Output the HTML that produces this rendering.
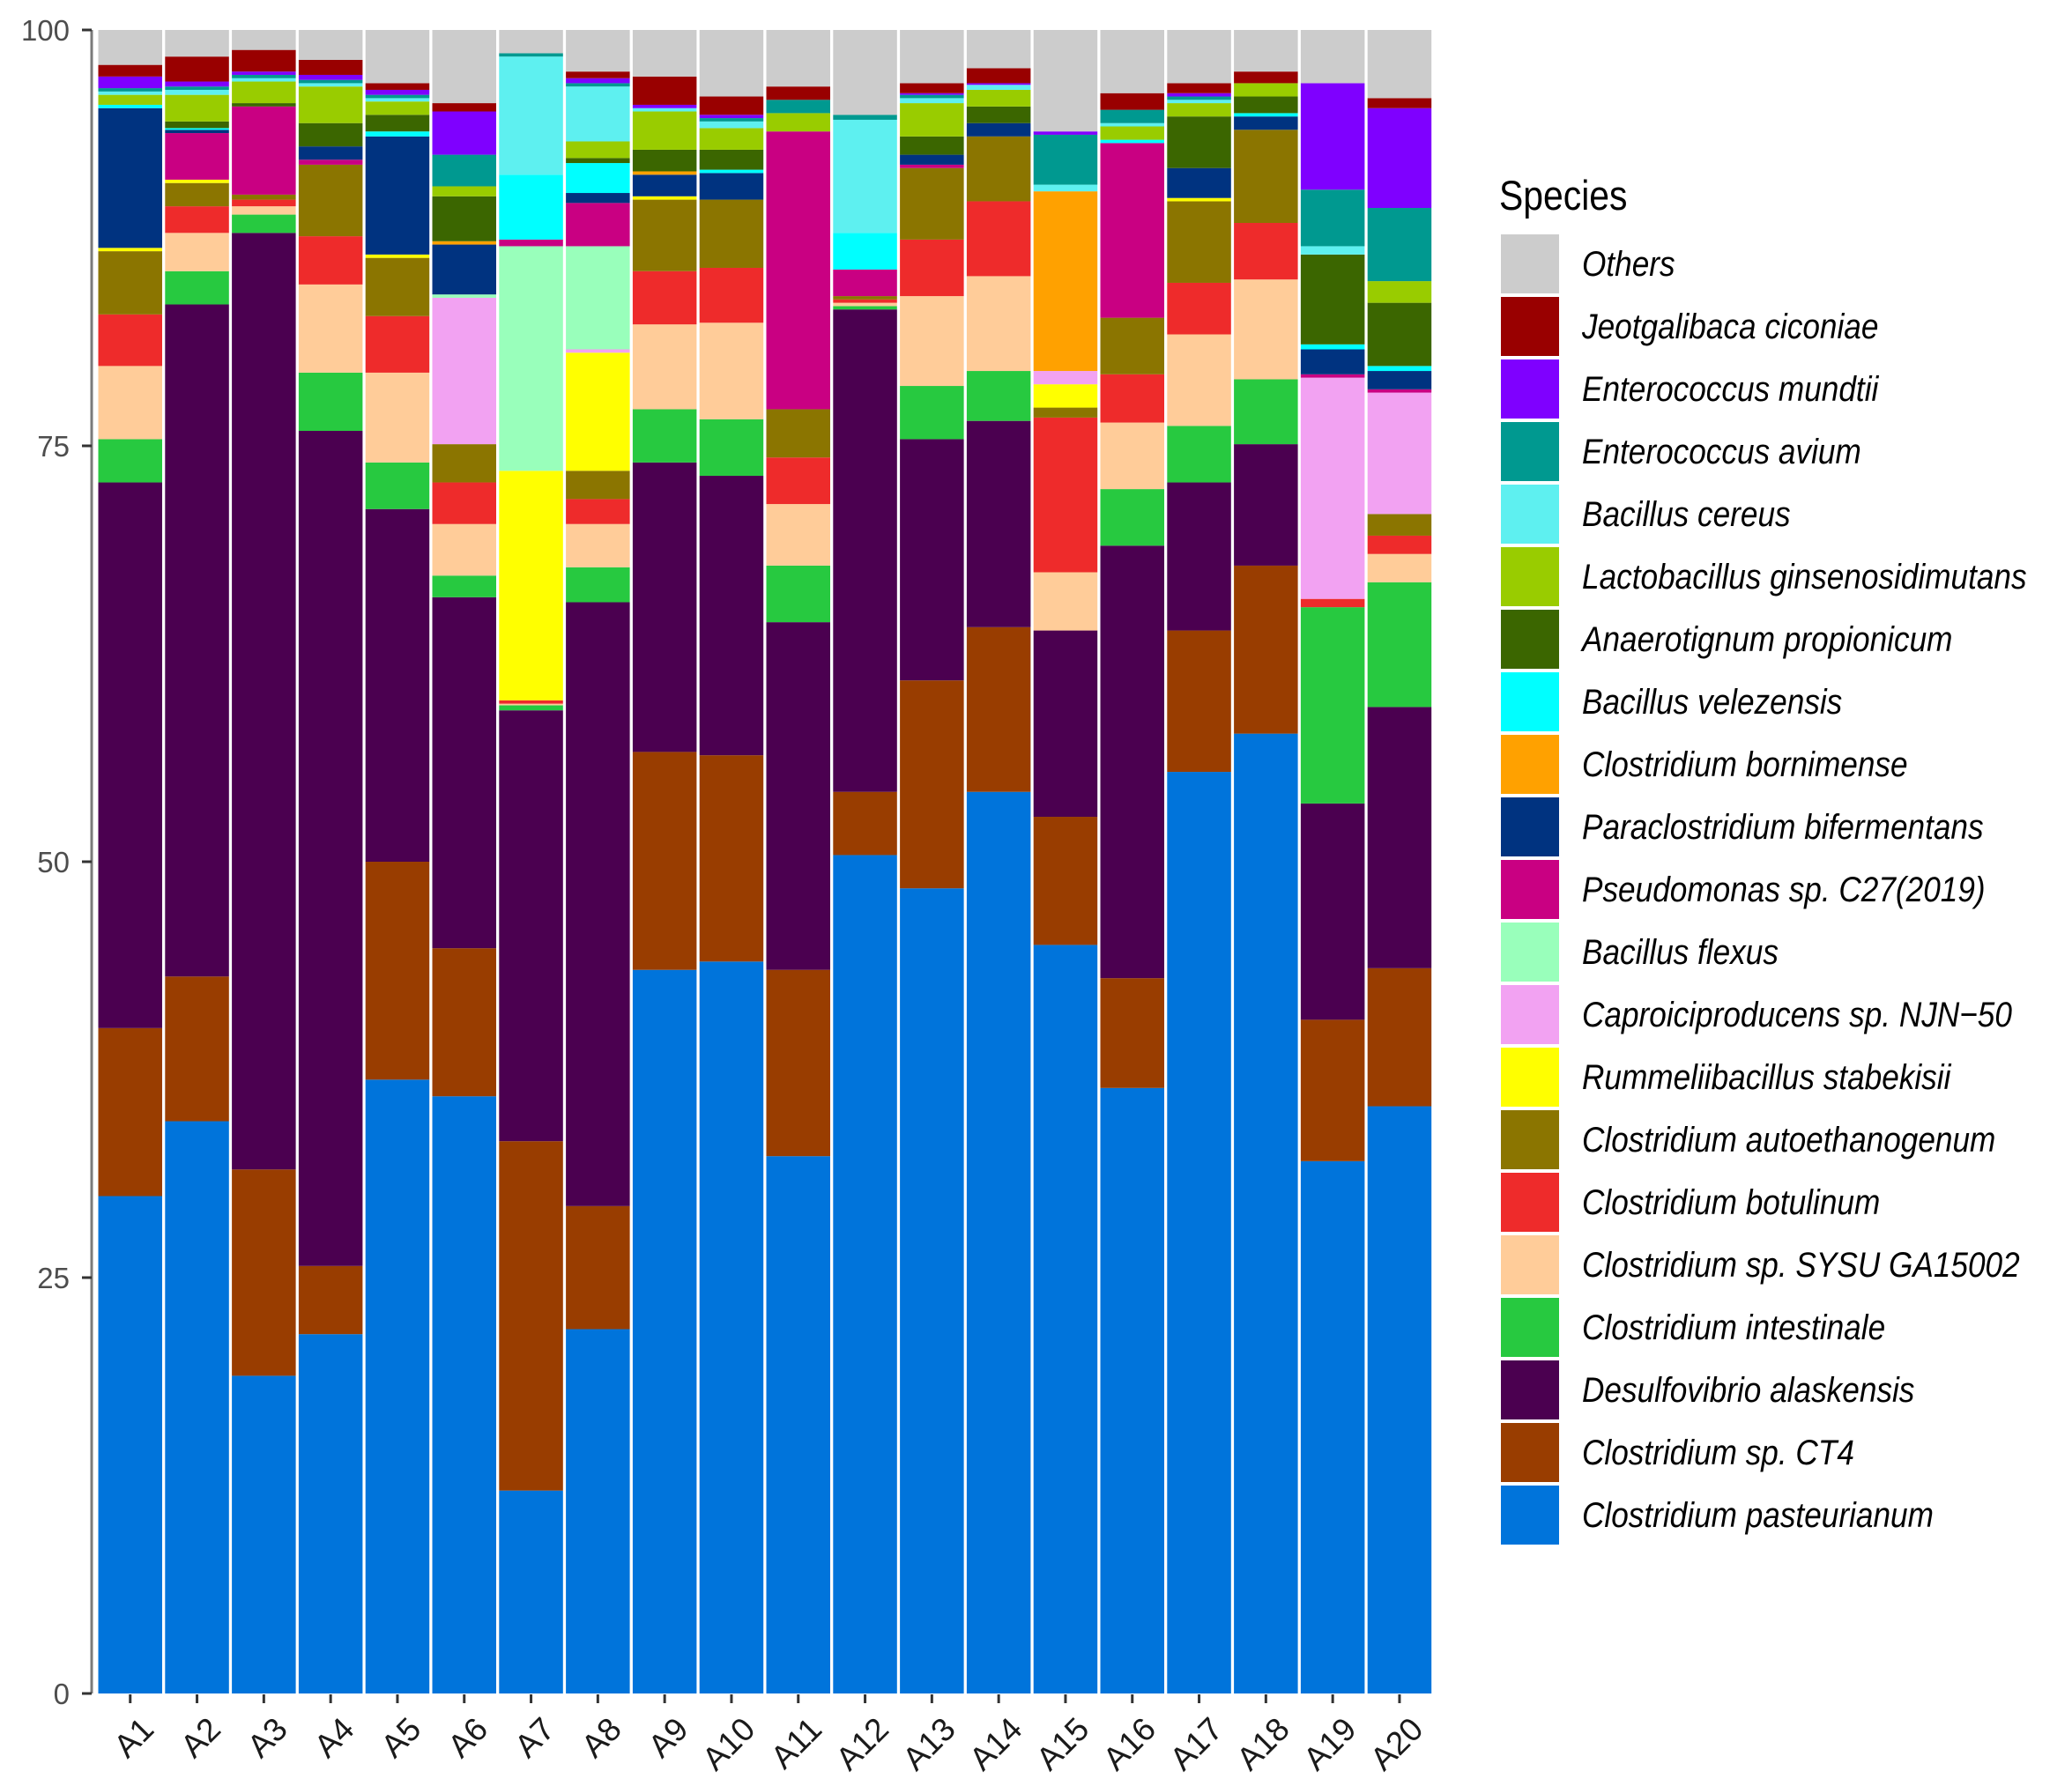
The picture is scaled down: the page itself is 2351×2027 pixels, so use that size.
<!DOCTYPE html>
<html><head><meta charset="utf-8"><style>
html,body{margin:0;padding:0;background:#fff;}
svg{display:block;font-family:"Liberation Sans",Arial,sans-serif;}
</style></head><body>
<svg id="chart" width="2351" height="2027" viewBox="0 0 2351 2027" xmlns="http://www.w3.org/2000/svg">
<g id="plot"></g>
<g id="axes"></g>
<g id="legend"></g>
</svg>
<script>
const samples = ["A1","A2","A3","A4","A5","A6","A7","A8","A9","A10","A11","A12","A13","A14","A15","A16","A17","A18","A19","A20"];
const species = ["Clostridium pasteurianum","Clostridium sp. CT4","Desulfovibrio alaskensis","Clostridium intestinale","Clostridium sp. SYSU GA15002","Clostridium botulinum","Clostridium autoethanogenum","Rummeliibacillus stabekisii","Caproiciproducens sp. NJN\u221250","Bacillus flexus","Pseudomonas sp. C27(2019)","Paraclostridium bifermentans","Clostridium bornimense","Bacillus velezensis","Anaerotignum propionicum","Lactobacillus ginsenosidimutans","Bacillus cereus","Enterococcus avium","Enterococcus mundtii","Jeotgalibaca ciconiae","Others"];
const colors = ["#0074DB","#993D00","#4B0050","#27C940","#FFCC99","#EE2B2B","#8B7500","#FFFF00","#F2A2F2","#99FFBB","#C90082","#003380","#FFA100","#00FFFF","#3B6600","#99CC00","#5EF0F0","#009990","#7F00FF","#990000","#CCCCCC"];
const yTicks = [0,25,50,75,100];
// per-sample values, order matches species
const A1 =[29.9,10.1,32.8,2.6,4.4,3.1,3.8,0.2,0,0,0,8.4,0,0.2,0,0.6,0.2,0.2,0.7,0.7,2.1];
const A2 =[34.4,8.7,40.4,2.0,2.3,1.6,1.4,0.2,0,0,2.8,0.2,0,0.1,0.4,1.6,0.3,0.2,0.3,1.5,1.6];
const A3 =[19.1,12.4,56.3,1.1,0.5,0.4,0.3,0,0,0,5.3,0,0,0,0.2,1.3,0.2,0.2,0.2,1.3,1.2];
const A4 =[21.6,4.1,50.2,3.5,5.3,2.9,4.3,0,0,0,0.3,0.8,0,0,1.4,2.2,0.2,0.2,0.3,0.9,1.8];
const A5 =[36.9,13.1,21.2,2.8,5.4,3.4,3.5,0.2,0,0,0,7.1,0,0.3,1.0,0.8,0.2,0.2,0.3,0.4,3.2];
const A6 =[35.9,8.9,21.1,1.3,3.1,2.5,2.3,0,8.8,0.2,0,3.0,0.2,0,2.7,0.6,0,1.9,2.6,0.5,4.4];
const A7 =[12.2,21.0,25.9,0.3,0.1,0.2,0,13.8,0,13.5,0.4,0,0,3.9,0,0,7.1,0.2,0,0,1.4];
const A8 =[21.9,7.4,36.3,2.1,2.6,1.5,1.7,7.1,0.2,6.2,2.6,0.6,0,1.8,0.3,1.0,3.3,0.2,0.3,0.4,2.5];
const A9 =[43.5,13.1,17.4,3.2,5.1,3.2,4.3,0.2,0,0,0,1.3,0.2,0,1.3,2.3,0.2,0,0.2,1.7,2.8];
const A10=[44.0,12.4,16.8,3.4,5.8,3.3,4.1,0,0,0,0,1.6,0,0.2,1.2,1.3,0.4,0.2,0.2,1.1,4.0];
const A11=[32.3,11.2,20.9,3.4,3.7,2.8,2.9,0,0,0,16.7,0,0,0,0,1.1,0,0.8,0,0.8,3.4];
const A12=[50.4,3.8,29.0,0.2,0.2,0.2,0.2,0,0,0,1.6,0,0,2.2,0,0,6.8,0.3,0,0,5.1];
const A13=[48.4,12.5,14.5,3.2,5.4,3.4,4.3,0,0,0,0.2,0.6,0,0,1.1,2.0,0.3,0.2,0.1,0.6,3.2];
const A14=[54.2,9.9,12.4,3.0,5.7,4.5,3.9,0,0,0,0,0.8,0,0,1.0,1.0,0.3,0,0.1,0.9,2.3];
const A15=[45.0,7.7,11.2,0,3.5,9.3,0.6,1.4,0.8,0,0,0,10.8,0,0,0,0.4,3.0,0.2,0,6.1];
const A16=[36.4,6.6,26.0,3.4,4.0,2.9,3.4,0,0,0,10.5,0,0,0.2,0,0.8,0.2,0.8,0,1.0,3.8];
const A17=[55.4,8.5,8.9,3.4,5.5,3.1,4.9,0.2,0,0,0,1.8,0,0,3.1,0.8,0.2,0.2,0.2,0.6,3.2];
const A18=[57.7,10.1,7.3,3.9,6.0,3.4,5.6,0,0,0,0,0.8,0,0.2,1.0,0.8,0,0,0,0.7,2.5];
const A19=[32.0,8.5,13.0,11.8,0,0.5,0,0,13.3,0,0.2,1.5,0,0.3,5.4,0,0.5,3.4,6.4,0,3.2];
const A20=[35.3,8.3,15.7,7.5,1.7,1.1,1.3,0,7.3,0,0.2,1.1,0,0.3,3.8,1.3,0,4.4,6.0,0.6,4.1];
const values = [A1,A2,A3,A4,A5,A6,A7,A8,A9,A10,A11,A12,A13,A14,A15,A16,A17,A18,A19,A20];

const NS="http://www.w3.org/2000/svg";
const X0=111.5, STEP=75.8, BW=72.5, Y0=1922, Y100=34;
function xPos(i){return X0+i*STEP;}
function yPos(v){return Y0-(Y0-Y100)*v/100;}
function mk(tag,attrs,parent){const e=document.createElementNS(NS,tag);for(const k in attrs)e.setAttribute(k,attrs[k]);parent.appendChild(e);return e;}
const plot=document.getElementById('plot'), axes=document.getElementById('axes'), legend=document.getElementById('legend');

samples.forEach((s,i)=>{
  const g=mk('g',{},plot);
  
  
  let cum=0;
  values[i].forEach((v,j)=>{
    if(v<=0) return;
    const y1=yPos(cum+v), y2=yPos(cum);
    const r=mk('rect',{x:xPos(i),y:y1,width:BW,height:y2-y1,fill:colors[j]},g);
    
    
    cum+=v;
  });
  const cx=xPos(i)+BW/2;
  const t=mk('line',{x1:cx,x2:cx,y1:Y0+1,y2:Y0+11,stroke:'#333','stroke-width':3},axes);
  
  
  const lb=mk('text',{x:cx+10,y:Y0+24,'font-size':37,fill:'#1a1a1a','text-anchor':'end',transform:`rotate(-45 ${cx+10} ${Y0+24})`,dy:'0.72em'},axes);
  
  
  lb.textContent=s;
});
const ax=mk('line',{x1:104,x2:104,y1:Y100,y2:Y0,stroke:'#7a7a7a','stroke-width':3},axes);


yTicks.forEach(v=>{
  const y=yPos(v);
  const t=mk('line',{x1:93,x2:104,y1:y,y2:y,stroke:'#333','stroke-width':3},axes);
  
  
  const l=mk('text',{x:79,y:y+12,'font-size':33,fill:'#4d4d4d','text-anchor':'end'},axes);
  
  
  l.textContent=v;
});
const title=mk('text',{x:0,y:0,'font-size':47,fill:'#000',transform:'translate(1701 238) scale(0.87 1)'},legend);


title.textContent='Species';
for(let k=0;k<species.length;k++){
  const j=species.length-1-k;
  const y=266+k*71;
  const g=mk('g',{},legend);
  
  
  mk('rect',{x:1703,y:y,width:66,height:67,fill:colors[j]},g);
  const t=mk('text',{x:0,y:0,'font-size':40,'font-style':'italic',fill:'#000',transform:`translate(1795 ${y+47}) scale(0.88 1)`},g);
  t.textContent=species[j];
}
</script>
</body></html>
